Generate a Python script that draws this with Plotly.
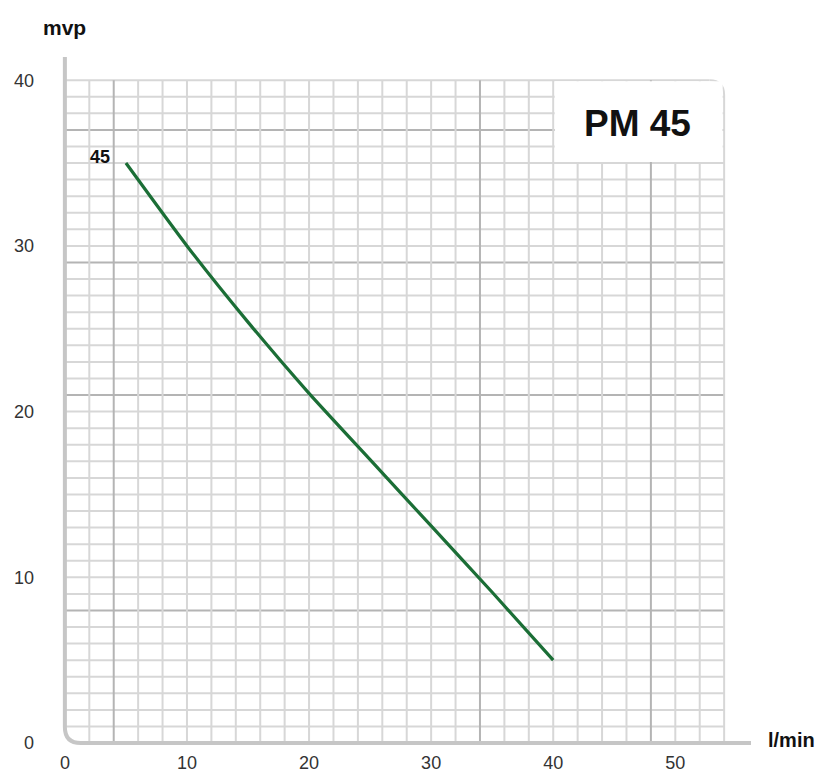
import plotly.graph_objects as go

# ---- data ----
flow_lpm = [5, 10, 15, 20, 25, 30, 35, 40]
head_mvp = [35.0, 30.0, 25.4, 21.1, 17.1, 13.1, 9.1, 5.0]
curve_label = "45"
model_title = "PM 45"
x_ticks = [0, 10, 20, 30, 40, 50]
y_ticks = [0, 10, 20, 30, 40]
x_title = "l/min"
y_title = "mvp"

FONT = "Liberation Sans, Arial, sans-serif"
MINOR = "#d7d7d7"
MAJOR = "#b4b4b4"
AXIS = "#c6c6c6"
GREEN = "#1b6e36"

GRID_X_MAX = 54
GRID_Y_MAX = 40
major_y = {8, 21, 29, 37}
major_x = {4, 34, 48}

shapes = []
# horizontal grid lines
for yv in range(1, GRID_Y_MAX + 1):
    x1 = GRID_X_MAX if yv < GRID_Y_MAX else GRID_X_MAX - 1.2
    shapes.append(dict(type="line", xref="x", yref="y", x0=0, x1=x1, y0=yv, y1=yv,
                       line=dict(color=MAJOR if yv in major_y else MINOR, width=2),
                       layer="below"))
# vertical grid lines
for xv in range(2, GRID_X_MAX + 1, 2):
    y1 = GRID_Y_MAX if xv < GRID_X_MAX else GRID_Y_MAX - 0.9
    shapes.append(dict(type="line", xref="x", yref="y", x0=xv, x1=xv, y0=0, y1=y1,
                       line=dict(color=MAJOR if xv in major_x else MINOR, width=2),
                       layer="below"))
# rounded top-right corner of the grid
shapes.append(dict(type="path", xref="x", yref="y",
                   path=f"M {GRID_X_MAX-1.2},{GRID_Y_MAX} Q {GRID_X_MAX},{GRID_Y_MAX} {GRID_X_MAX},{GRID_Y_MAX-0.9}",
                   line=dict(color=MINOR, width=2), layer="below"))
# white title box (upper right)
shapes.append(dict(type="rect", xref="x", yref="y", x0=40.12, x1=53.88, y0=35.07, y1=39.93,
                   fillcolor="white", line=dict(width=0), layer="below"))
# axis lines with rounded bottom-left corner
shapes.append(dict(type="path", xref="x", yref="y",
                   path="M 0,41.4 L 0,0.95 Q 0,0 1.3,0 L 56.2,0",
                   line=dict(color=AXIS, width=4), layer="below"))

fig = go.Figure()
fig.add_trace(go.Scatter(x=flow_lpm, y=head_mvp, mode="lines",
                         line=dict(color=GREEN, width=3.2, shape="spline", smoothing=0.6),
                         hoverinfo="x+y", showlegend=False))

annotations = [
    dict(x=flow_lpm[0] - 2.1, y=head_mvp[0] + 0.35, text=f"<b>{curve_label}</b>", showarrow=False,
         xref="x", yref="y", font=dict(family=FONT, size=18, color="#111"), xanchor="center", yanchor="middle"),
    dict(x=46.9, y=37.4, text=f"<b>{model_title}</b>", showarrow=False, xref="x", yref="y",
         font=dict(family=FONT, size=37, color="#111"), xanchor="center", yanchor="middle"),
    dict(x=0.0072, y=1.0434, text=f"<b>{y_title}</b>", showarrow=False, xref="paper", yref="paper",
         font=dict(family=FONT, size=21, color="#111"), xanchor="center", yanchor="middle"),
    dict(x=1.0593, y=0.0116, text=f"<b>{x_title}</b>", showarrow=False, xref="paper", yref="paper",
         font=dict(family=FONT, size=20, color="#111"), xanchor="center", yanchor="middle"),
]

# page body has an 8px margin, so the figure is 8px smaller and margins shifted
fig.update_layout(
    width=817, height=761,
    margin=dict(l=52, r=74, t=49, b=21, pad=0, autoexpand=False),
    paper_bgcolor="white", plot_bgcolor="white",
    shapes=shapes, annotations=annotations,
    xaxis=dict(range=[-0.4, 56.2], tickvals=x_ticks, ticktext=[str(v) for v in x_ticks],
               showgrid=False, zeroline=False, showline=False, ticks="", automargin=False,
               ticklabelstandoff=2, tickfont=dict(family=FONT, size=18, color="#333")),
    yaxis=dict(range=[-0.3, 41.4], tickvals=y_ticks, ticktext=[str(v) for v in y_ticks],
               showgrid=False, zeroline=False, showline=False, ticks="", automargin=False,
               ticklabelstandoff=25, tickfont=dict(family=FONT, size=18, color="#333")),
)

fig.write_html("out.html")
